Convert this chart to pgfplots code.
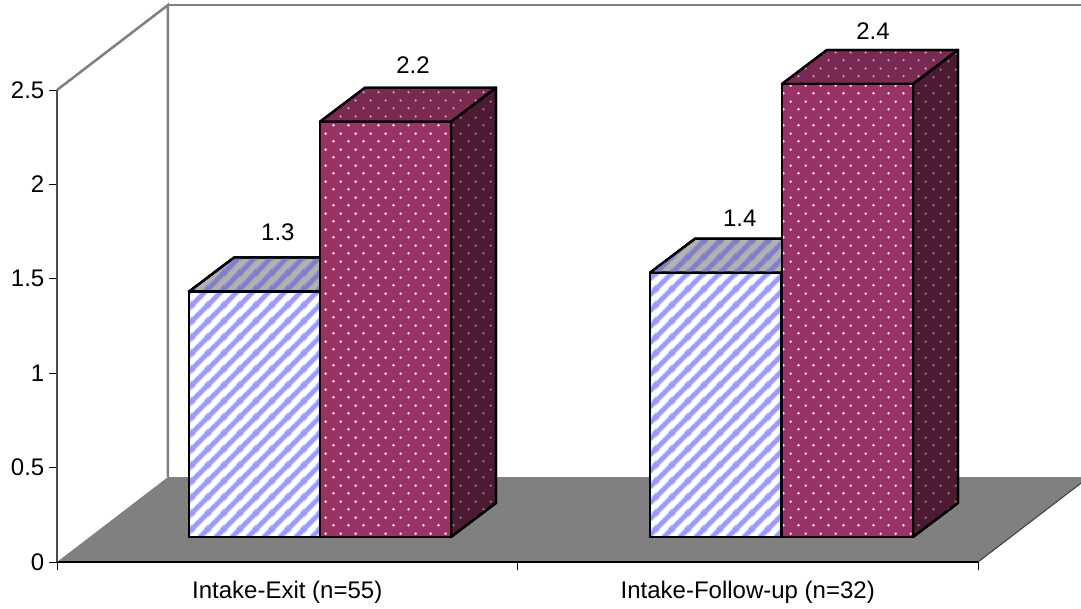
\documentclass[border=0pt]{standalone}
\usepackage{fontspec}
\setmainfont{Liberation Sans}
\usepackage{pgfplots}
\pgfplotsset{compat=1.18}
\usetikzlibrary{patterns}

% Diagonal stripes: a wide soft band and a narrower core band
\newcommand\diagonals{%
  \pgfpathmoveto{\pgfqpoint{-1pt}{-1pt}}\pgfpathlineto{\pgfqpoint{13pt}{13pt}}%
  \pgfpathmoveto{\pgfqpoint{-1pt}{11pt}}\pgfpathlineto{\pgfqpoint{3pt}{15pt}}%
  \pgfpathmoveto{\pgfqpoint{11pt}{-1pt}}\pgfpathlineto{\pgfqpoint{15pt}{3pt}}%
  \pgfusepath{stroke}}
\pgfdeclarepatternformonly{stripewide}{\pgfqpoint{0pt}{0pt}}{\pgfqpoint{12pt}{12pt}}{\pgfqpoint{12pt}{12pt}}{%
  \pgfsetlinewidth{4.6pt}\diagonals}
\pgfdeclarepatternformonly{stripecore}{\pgfqpoint{0pt}{0pt}}{\pgfqpoint{12pt}{12pt}}{\pgfqpoint{12pt}{12pt}}{%
  \pgfsetlinewidth{3pt}\diagonals}
% Staggered dots
\pgfdeclarepatternformonly{bardots}{\pgfqpoint{0pt}{0pt}}{\pgfqpoint{11.25pt}{12pt}}{\pgfqpoint{11.25pt}{12pt}}{%
  \pgfpathcircle{\pgfqpoint{2.8pt}{3pt}}{1.05pt}%
  \pgfpathcircle{\pgfqpoint{8.45pt}{9pt}}{1.05pt}%
  \pgfusepath{fill}}

\definecolor{stripefront}{HTML}{9999FF}
\definecolor{stripefrontsoft}{HTML}{CCCCFF}
\definecolor{stripetop}{HTML}{7F7FCC}
\definecolor{stripetopsoft}{HTML}{9898BE}
\definecolor{plumfront}{HTML}{993366}
\definecolor{plumtop}{HTML}{7A2952}
\definecolor{plumside}{HTML}{4D1A33}
\definecolor{dotfront}{HTML}{F4E8EE}
\definecolor{dottop}{HTML}{C0A0B0}
\definecolor{dotside}{HTML}{8A7480}
\definecolor{floorgrey}{HTML}{808080}

\tikzset{
  stripedfront/.style={fill=white,
    postaction={pattern=stripewide, pattern color=stripefrontsoft},
    postaction={pattern=stripecore, pattern color=stripefront}},
  stripedtop/.style={fill=black!30,
    postaction={pattern=stripewide, pattern color=stripetopsoft},
    postaction={pattern=stripecore, pattern color=stripetop}},
  stripedside/.style={fill=black!50,
    postaction={pattern=stripecore, pattern color=stripetop!70!black}},
  dottedfront/.style={fill=plumfront, postaction={pattern=bardots, pattern color=dotfront}},
  dottedtop/.style={fill=plumtop, postaction={pattern=bardots, pattern color=dottop}},
  dottedside/.style={fill=plumside, postaction={pattern=bardots, pattern color=dotside}},
}

% Box depth, bar width and floor lift in axis units
\def\boxdx{0.0977}
\def\boxdy{0.18}
\def\boxw{0.2845}
\def\boxbase{0.1324}

% #1 left edge, #2 value, #3 side style, #4 top style, #5 front style,
% #6 and #7 label position relative to the middle of the bar top
\newcommand\boxbar[7]{%
  \pgfmathsetmacro\xa{#1}%
  \pgfmathsetmacro\xb{#1+\boxw}%
  \pgfmathsetmacro\xc{#1+\boxdx}%
  \pgfmathsetmacro\xd{#1+\boxw+\boxdx}%
  \pgfmathsetmacro\ya{\boxbase}%
  \pgfmathsetmacro\yb{\boxbase+#2}%
  \pgfmathsetmacro\yc{\boxbase+\boxdy}%
  \pgfmathsetmacro\yd{\boxbase+#2+\boxdy}%
  \addplot[barface, #3]
    coordinates {(\xb,\ya) (\xd,\yc) (\xd,\yd) (\xb,\yb)} -- cycle;
  \addplot[barface, #4]
    coordinates {(\xa,\yb) (\xb,\yb) (\xd,\yd) (\xc,\yd)} -- cycle;
  \addplot[barface, #5]
    coordinates {(\xa,\ya) (\xb,\ya) (\xb,\yb) (\xa,\yb)} -- cycle;
  \pgfmathsetmacro\xl{#1+\boxw/2+\boxdx/2+#6}%
  \pgfmathsetmacro\yl{\boxbase+#2+#7}%
  \edef\valuelabel{\noexpand\node[font=\noexpand\valuefont] at (axis cs:\xl,\yl) {#2};}%
  \valuelabel
}
\newcommand\valuefont{\fontsize{18}{20}\selectfont}

\begin{document}
\begin{tikzpicture}
\clip (-42.75pt,-34.5pt) rectangle (768pt,421.5pt);
\begin{axis}[
  scale only axis,
  width=690.75pt, height=354pt,
  xmin=0, xmax=2, ymin=0, ymax=2.5,
  clip=false,
  axis on top,
  axis x line=bottom, axis y line=left,
  axis line style={-, black},
  x axis line style={line width=1pt},
  y axis line style={line width=0.8pt, draw=black!70},
  xtick={0,1,2}, xticklabels={},
  extra x ticks={0.5,1.5},
  extra x tick labels={Intake-Exit (n=55),Intake-Follow-up (n=32)},
  extra x tick style={major tick length=0pt, tick label style={yshift=-10.5pt}},
  ytick={0,0.5,1,1.5,2,2.5},
  yticklabels={0,0.5,1,1.5,2,2.5},
  tick align=outside,
  major tick length=6pt,
  tick style={black, line width=0.6pt},
  tick label style={font=\valuefont},
  /pgf/number format/assume math mode=true,
  barface/.style={draw=black, line width=1.7pt, line join=round, mark=none, solid, forget plot},
]
  % Floor and back walls
  \addplot[fill=floorgrey, draw=none, mark=none, forget plot]
    coordinates {(0,0) (2,0) (2.241,0.45) (0.241,0.45)} -- cycle;
  \addplot[draw=black!75, line width=0.8pt, mark=none, forget plot]
    coordinates {(2,0) (2.241,0.45)};
  \addplot[draw=floorgrey, line width=1.9pt, mark=none, forget plot]
    coordinates {(0,2.5) (0.241,2.95) (0.241,0.45)};
  \addplot[draw=floorgrey, line width=1.9pt, mark=none, forget plot]
    coordinates {(0.241,2.95) (2.241,2.95)};

  % Intake-Exit
  \boxbar{0.2866}{1.3}{stripedside}{stripedtop}{stripedfront}{0.002}{0.315}
  \boxbar{0.5711}{2.2}{dottedside}{dottedtop}{dottedfront}{0.011}{0.302}
  % Intake-Follow-up
  \boxbar{1.2877}{1.4}{stripedside}{stripedtop}{stripedfront}{0.004}{0.286}
  \boxbar{1.5744}{2.4}{dottedside}{dottedtop}{dottedfront}{0.0065}{0.281}
\end{axis}
\end{tikzpicture}
\end{document}
